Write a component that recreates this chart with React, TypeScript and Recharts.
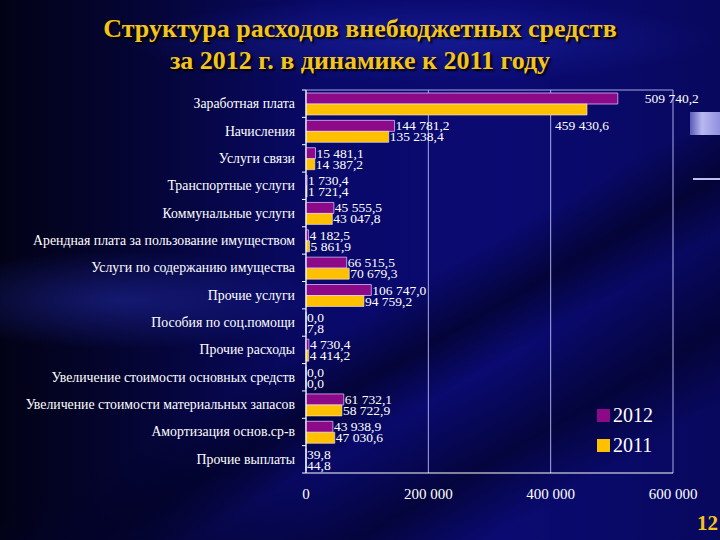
import React from "react";
import { BarChart, Bar, XAxis, YAxis, CartesianGrid, LabelList } from "recharts";

const categories = [
  "Заработная плата",
  "Начисления",
  "Услуги связи",
  "Транспортные услуги",
  "Коммунальные услуги",
  "Арендная плата за пользование имуществом",
  "Услуги по содержанию имущества",
  "Прочие услуги",
  "Пособия по соц.помощи",
  "Прочие расходы",
  "Увеличение стоимости основных средств",
  "Увеличение стоимости материальных запасов",
  "Амортизация основ.ср-в",
  "Прочие выплаты",
];

const values2012 = [509740.2, 144781.2, 15481.1, 1730.4, 45555.5, 4182.5, 66515.5, 106747.0, 0.0, 4730.4, 0.0, 61732.1, 43938.9, 39.8];
const values2011 = [459430.6, 135238.4, 14387.2, 1721.4, 43047.8, 5861.9, 70679.3, 94759.2, 7.8, 4414.2, 0.0, 58722.9, 47030.6, 44.8];

const xTicks = [0, 200000, 400000, 600000];
const seriesNames = ["2012", "2011"];
const seriesColors = ["#8c0a88", "#ffc000"];

const data = categories.map((name, i) => ({ name, y2012: values2012[i], y2011: values2011[i] }));

const PLOT_TOP = 90;
const PLOT_BOTTOM = 473;
const BAND = (PLOT_BOTTOM - PLOT_TOP) / categories.length;

const fmtVal = (v: number) => {
  const [ip, dp] = v.toFixed(1).split(".");
  return ip.replace(/\B(?=(\d{3})+(?!\d))/g, " ") + "," + dp;
};
const fmtTick = (v: number) => String(v).replace(/\B(?=(\d{3})+(?!\d))/g, " ");

const makeLabel = (series: number) => (props: any) => {
  const { x, y, width, height, value, index } = props;
  let dx = 1;
  let dy = 0;
  if (index === 0 && series === 0) dx = 27;
  if (index === 0 && series === 1) {
    dx = -32;
    dy = 16;
  }
  return (
    <text
      x={Number(x) + Number(width) + dx}
      y={Number(y) + Number(height) / 2 + dy}
      fill="#ffffff"
      fontSize={13.5}
      fontFamily="Liberation Serif"
      dominantBaseline="central"
    >
      {fmtVal(Number(value))}
    </text>
  );
};

const CatTick = (props: any) => {
  const { x, y, payload, index } = props;
  const ax = Number(x) + 11;
  return (
    <g>
      <text
        x={x}
        y={y}
        textAnchor="end"
        dominantBaseline="central"
        fill="#ffffff"
        fontSize={13.8}
        fontFamily="Liberation Serif"
      >
        {payload.value}
      </text>
      <line x1={ax - 4} x2={ax} y1={y + BAND / 2} y2={y + BAND / 2} stroke="#ffffff" strokeWidth={1} />
      {index === 0 ? (
        <line x1={ax - 4} x2={ax} y1={y - BAND / 2} y2={y - BAND / 2} stroke="#ffffff" strokeWidth={1} />
      ) : null}
    </g>
  );
};

export default function App() {
  return (
    <div
      style={{
        position: "fixed",
        left: 0,
        top: 0,
        width: 720,
        height: 540,
        overflow: "hidden",
        fontFamily: "Liberation Serif",
        background:
          "radial-gradient(ellipse 420px 60px at 420px 40px, rgba(30,40,170,0.55), rgba(0,0,0,0) 70%)," +
          "radial-gradient(ellipse 300px 70px at 120px 300px, rgba(40,50,190,0.45), rgba(0,0,0,0) 70%)," +
          "linear-gradient(150deg, rgba(0,0,0,0) 55%, rgba(2,2,40,0.75) 62%, rgba(0,0,0,0) 68%, rgba(2,2,40,0.7) 78%, rgba(0,0,0,0) 86%)," +
          "linear-gradient(90deg, #020216 0%, #05053a 22%, #09096a 45%, #0a0a72 70%, #08085e 100%)",
      }}
    >
      <div
        style={{
          position: "absolute",
          left: 690,
          top: 112,
          width: 30,
          height: 23,
          background: "linear-gradient(90deg, #5a5ab8, #b8b8f0 40%, #9090e0)",
        }}
      />
      <div style={{ position: "absolute", left: 693, top: 178, width: 27, height: 2, background: "#c0c0f0" }} />
      <div
        style={{
          position: "absolute",
          left: 0,
          top: 13,
          width: 720,
          textAlign: "center",
          color: "#f4c41c",
          fontWeight: "bold",
          fontSize: 26,
          lineHeight: "32px",
          textShadow: "2px 2px 2px #000000",
        }}
      >
        <div>Структура расходов внебюджетных средств</div>
        <div>за 2012 г. в динамике к 2011 году</div>
      </div>
      <div style={{ position: "absolute", left: 0, top: 0 }}>
        <BarChart
          width={720}
          height={540}
          layout="vertical"
          data={data}
          margin={{ top: PLOT_TOP, right: 47, bottom: 37, left: 6 }}
          barGap={0}
          barSize={11}
        >
          <CartesianGrid
            vertical={true}
            horizontal={true}
            horizontalPoints={[PLOT_TOP]}
            stroke="#a8a8e8"
            strokeWidth={1}
          />
          <XAxis
            type="number"
            domain={[0, 600000]}
            ticks={xTicks}
            tickFormatter={fmtTick}
            height={30}
            tickSize={0}
            tickMargin={15}
            axisLine={{ stroke: "#ffffff" }}
            tick={{ fill: "#ffffff", fontSize: 15, fontFamily: "Liberation Serif" }}
            interval={0}
          />
          <YAxis
            type="category"
            dataKey="name"
            width={300}
            tickSize={0}
            tickMargin={11}
            tickLine={false}
            axisLine={{ stroke: "#ffffff" }}
            tick={<CatTick />}
            interval={0}
          />
          <Bar dataKey="y2012" name={seriesNames[0]} fill={seriesColors[0]} stroke="#d8b8ff" strokeWidth={0.8} minPointSize={0.01} isAnimationActive={false}>
            <LabelList dataKey="y2012" content={makeLabel(0)} />
          </Bar>
          <Bar dataKey="y2011" name={seriesNames[1]} fill={seriesColors[1]} stroke="#f0e8ff" strokeWidth={0.6} minPointSize={0.01} isAnimationActive={false}>
            <LabelList dataKey="y2011" content={makeLabel(1)} />
          </Bar>
        </BarChart>
      </div>
      <div style={{ position: "absolute", left: 597, top: 400 }}>
        {seriesNames.map((n, i) => (
          <div key={n} style={{ display: "flex", alignItems: "center", height: 30, color: "#ffffff", fontSize: 20 }}>
            <div style={{ width: 13, height: 13, background: seriesColors[i], marginRight: 3 }} />
            <span>{n}</span>
          </div>
        ))}
      </div>
      <div
        style={{
          position: "absolute",
          left: 697,
          top: 510,
          color: "#f4c41c",
          fontWeight: "bold",
          fontSize: 21,
          lineHeight: "26px",
        }}
      >
        12
      </div>
    </div>
  );
}
